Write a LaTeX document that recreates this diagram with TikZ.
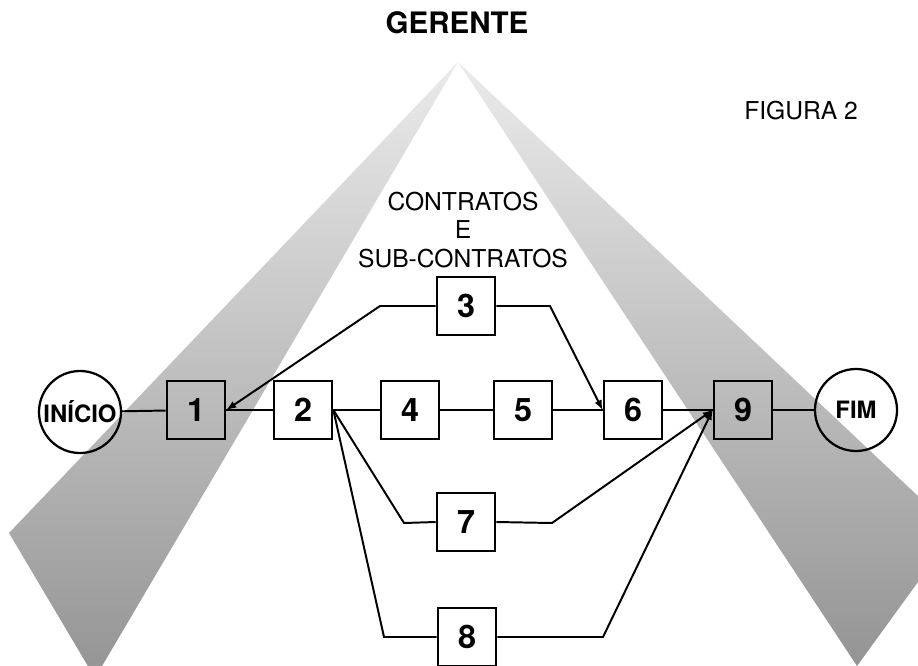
\documentclass[tikz,border=0pt]{standalone}
\usepackage{fontspec}
\setmainfont{TeX Gyre Heros}
\usepackage{tikz}
\usetikzlibrary{calc}
\tikzset{task box/.style={draw,rectangle,line width=1.9pt,minimum width=1.45cm,minimum height=1.45cm,inner sep=0,font=\bfseries\fontsize{23}{23}\selectfont}}
\tikzset{end circle/.style={draw,circle,line width=1.6pt,minimum size=2.05cm,inner sep=0,font=\bfseries\fontsize{17}{17}\selectfont}}
\tikzset{band/.style={top color=black!8,bottom color=black!42}}
\tikzset{link/.style={line width=1.4pt}}
\tikzset{set text/.style={inner sep=0,font=\fontsize{17.5}{20.6}\selectfont}}

\begin{document}
\begin{tikzpicture}[x=0.025cm,y=-0.025cm,>=latex]

            \def \apexPoint{(458, 62)}
            \def \rowY{410}

            \useasboundingbox (0, 0) rectangle (918, 665);
            \scope
              \clip (0, 0) rectangle (918, 665);
              \shade[band] \apexPoint -- (9, 533) -- (95, 678) -- cycle;
              \shade[band] \apexPoint -- (955, 531) -- (857, 666) -- cycle;
            \endscope

            \node[set text, font=\bfseries\fontsize{21}{21}\selectfont] (gerente) at (457, 23) {GERENTE};
            \node[set text] (figura) at (801, 111) {FIGURA 2};
            \node[set text, align=center] (contratos) at (463, 230) {CONTRATOS\\E\\SUB-CONTRATOS};

            \node[end circle] (inicio) at (80, 412) {INÍCIO};
            \node[task box] (t1) at (196, \rowY) {1};
            \node[task box] (t2) at (303, \rowY) {2};
            \node[task box] (t3) at (466, 306) {3};
            \node[task box] (t4) at (410, \rowY) {4};
            \node[task box] (t5) at (523, \rowY) {5};
            \node[task box] (t6) at (633, \rowY) {6};
            \node[task box] (t7) at (466, 522) {7};
            \node[task box] (t8) at (467, 637) {8};
            \node[task box] (t9) at (743, \rowY) {9};
            \node[end circle] (fim) at (856, \rowY) {FIM};

            \coordinate (b3w) at (380, 306);
            \coordinate (b3e) at (550, 306);
            \coordinate (b7w) at (404, 523);
            \coordinate (b7e) at (552, 523);
            \coordinate (b8w) at (384, 637);
            \coordinate (b8e) at (603, 637);

            \draw[link] (inicio) -- (t1);
            \draw[link] (t1) -- (t2);
            \draw[link] (t2) -- (t4);
            \draw[link] (t4) -- (t5);
            \draw[link] (t5) -- (t6);
            \draw[link] (t6) -- (t9);
            \draw[link] (t9) -- (fim);
            \draw[link, ->] (t3.west) -- (b3w) -- (t1.east);
            \draw[link, ->] (t3.east) -- (b3e) -- (t6.west);
            \draw[link] (t2.east) -- (b7w) -- (t7.west);
            \draw[link] (t2.east) -- (b8w) -- (t8.west);
            \draw[link, ->] (t7.east) -- (b7e) -- (t9.west);
            \draw[link, ->] (t8.east) -- (b8e) -- (t9.west);

          \end{tikzpicture}
\end{document}
